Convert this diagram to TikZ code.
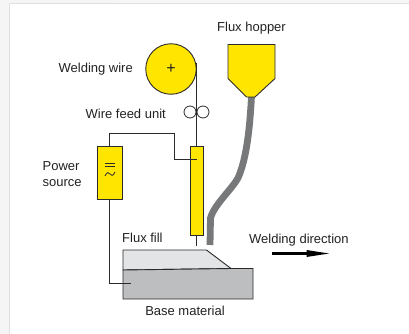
\documentclass[tikz,border=0pt]{standalone}
\usepackage{fontspec}
\setmainfont{Liberation Sans}
\definecolor{yel}{HTML}{FFE500}
\definecolor{fluxc}{HTML}{E3E4E6}
\definecolor{basec}{HTML}{BDBEC0}
\definecolor{tube}{HTML}{77787A}
\definecolor{edge}{HTML}{2A2A2A}
\definecolor{txt}{HTML}{222222}
\tikzset{
 lab/.style={inner sep=0pt,font=\fontsize{13}{15.5}\selectfont,text=txt,align=center},
 part/.style={draw=edge,line width=0.9pt,fill=yel},
 wire/.style={draw=edge,line width=0.8pt},
 roller/.style={circle,draw=edge,line width=0.8pt,minimum size=12pt,inner sep=0pt},
}
\begin{document}
\begin{tikzpicture}[x=1pt,y=-1pt]
\useasboundingbox (0,0) rectangle (409,334);
\fill[left color=black!4,right color=black!3] (0,0) rectangle (409,334);
\fill[black!12] (9,3) rectangle (409,334);
\fill[white] (10,4) rectangle (409,334);
% flux tube
\draw[tube,line width=6.8pt] (251.5,96) .. controls (250,125) and (247,158) .. (238,178) .. controls (232,189) and (214,205) .. (210.5,218) -- (210,245);
% hopper
\draw[part] (228,44.5) -- (275,44.5) -- (275,78.5) -- (255,97) -- (246.5,97) -- (228,78.5) -- cycle;
% spool
\node[part,circle,minimum size=50.5pt,inner sep=0pt] (spool) at (171,69) {};
\node[inner sep=0pt,font=\fontsize{16}{16}\selectfont,text=txt] (plus) at (171,69) {+};
% wire
\coordinate (wtop) at (196.5,63);
\coordinate (wbot) at (196.5,246);
\draw[wire] (wtop) -- (wbot);
% feed rollers
\node[roller] (rolla) at (190,112) {};
\node[roller] (rollb) at (203,112) {};
% torch
\node[part,rectangle,minimum width=13pt,minimum height=89.5pt,inner sep=0pt] (torch) at (197,191) {};
% power source
\node[part,rectangle,minimum width=25.5pt,minimum height=53pt,inner sep=0pt] (power) at (110,172.5) {};
\draw[edge,line width=0.8pt] (105,163.5) -- (115,163.5) (105,166.5) -- (115,166.5);
\draw[edge,line width=0.8pt] (105,176) .. controls (107,171.5) and (109,172) .. (110,174) .. controls (111,176) and (113,176.5) .. (115,172);
% leads
\coordinate (tap) at (196.5,159);
\coordinate (baseend) at (131,283.5);
\draw[wire] (power.north) ++(-1,0) |- (174,133) |- (tap);
% flux fill and base
\draw[draw=edge,line width=0.9pt,fill=fluxc] (123,250) -- (206.5,250) -- (231,268.5) -- (123,270) -- cycle;
\draw[draw=edge,line width=0.9pt,fill=basec] (123,270) -- (231,268.5) -- (253,268.5) -- (253,299) -- (123,299) -- cycle;
\draw[wire] (power.south) ++(-1,0) |- (baseend);
% direction arrow
\coordinate (arra) at (272,253.5);
\coordinate (arrb) at (329,253.5);
\draw[black,line width=2.2pt] (arra) -- (310,253.5);
\fill[black] (306.5,250) -- (arrb) -- (306.5,257) -- cycle;
% labels
\node[lab,anchor=east] (l1) at (133,69) {Welding wire};
\node[lab,anchor=east] (l2) at (166,113.5) {Wire feed unit};
\node[lab,anchor=north] (l3) at (251.5,22) {Flux hopper};
\node[lab,anchor=west,align=left] (l4) at (42.5,174) {Power\\source};
\node[lab,anchor=west] (l5) at (122,237.5) {Flux fill};
\node[lab,anchor=west] (l6) at (249,240.5) {Welding direction};
\node[lab] (l7) at (185,310.5) {Base material};
\end{tikzpicture}
\end{document}
